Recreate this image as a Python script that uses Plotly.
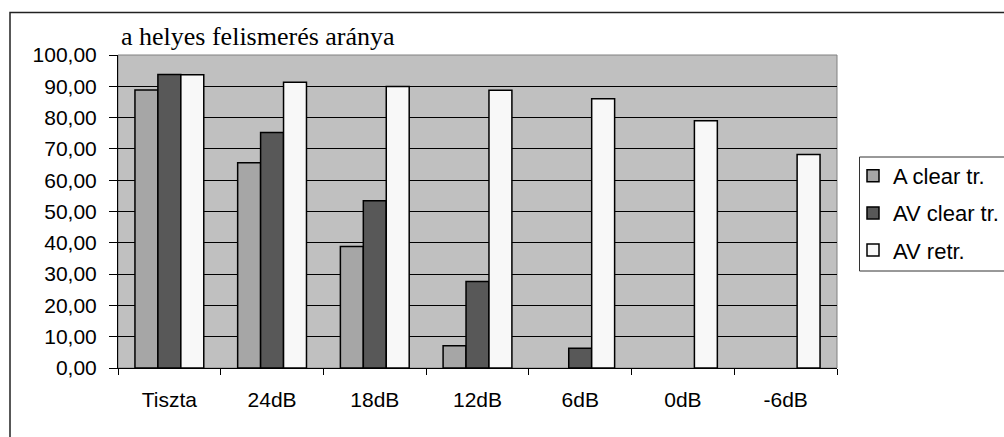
import plotly.graph_objects as go

categories = ["Tiszta", "24dB", "18dB", "12dB", "6dB", "0dB", "-6dB"]
a_clear = [88.8, 65.6, 38.8, 7.1, None, None, None]
av_clear = [93.8, 75.2, 53.4, 27.6, 6.3, None, None]
av_retr = [93.7, 91.3, 89.9, 88.7, 86.0, 79.0, 68.2]
series_names = ["A clear tr.", "AV clear tr.", "AV retr."]
y_tickvals = [0, 10, 20, 30, 40, 50, 60, 70, 80, 90, 100]
y_ticktext = ["0,00", "10,00", "20,00", "30,00", "40,00", "50,00", "60,00",
              "70,00", "80,00", "90,00", "100,00"]
title_text = "a helyes felismerés aránya"

colors = ["#A6A6A6", "#585858", "#F8F8F8"]
fig = go.Figure()
for i, (name, vals) in enumerate(zip(series_names, [a_clear, av_clear, av_retr])):
    fig.add_trace(go.Bar(
        x=categories, y=vals, name=name, legendgroup=f"g{i}",
        marker=dict(color=colors[i], line=dict(color="black", width=1.5)),
    ))

L, R, T, B = 118, 167, 55, 69
W, H = 1004, 437
pw, ph = W - L - R, H - T - B

def px(x):
    return (x - L) / pw

def py(y):
    return (H - B - y) / ph

fig.update_layout(
    width=W, height=H,
    margin=dict(l=L, r=R, t=T, b=B, pad=0, autoexpand=False),
    paper_bgcolor="white", plot_bgcolor="#C0C0C0",
    barmode="group", bargap=0.33, bargroupgap=0,
    font=dict(family="Liberation Sans, Arial", size=21, color="black"),
    showlegend=True,
    legend=dict(x=px(853), y=py(155), xanchor="left", yanchor="top",
                bgcolor="rgba(0,0,0,0)", borderwidth=0,
                font=dict(size=22, family="Liberation Sans, Arial"),
                tracegroupgap=5.5, traceorder="grouped"),
    xaxis=dict(showline=True, linecolor="black", linewidth=1,
               ticks="outside", ticklen=6, tickcolor="black", tickson="boundaries",
               ticklabelstandoff=13, showgrid=False),
    yaxis=dict(range=[0, 100], tickvals=y_tickvals, ticktext=y_ticktext,
               showline=True, linecolor="black", linewidth=1,
               ticks="outside", ticklen=8, tickcolor="black",
               ticklabelstandoff=8,
               showgrid=True, gridcolor="black", gridwidth=1, zeroline=False),
    shapes=[
        dict(type="rect", xref="paper", yref="paper", x0=0, x1=1, y0=0, y1=1,
             line=dict(color="#808080", width=1), layer="below"),
        dict(type="rect", xref="paper", yref="paper", x0=px(10), x1=px(1030),
             y0=py(460), y1=py(12.5), line=dict(color="#222222", width=1.5)),
        dict(type="rect", xref="paper", yref="paper", x0=px(859.5), x1=px(1030),
             y0=py(271), y1=py(157), line=dict(color="#333333", width=1)),
    ],
    annotations=[
        dict(text=title_text, xref="paper", yref="paper", x=px(119), y=py(36),
             xanchor="left", yanchor="middle", showarrow=False,
             font=dict(family="Liberation Serif, Times New Roman", size=26, color="black")),
    ],
)

fig.write_html("out.html")
